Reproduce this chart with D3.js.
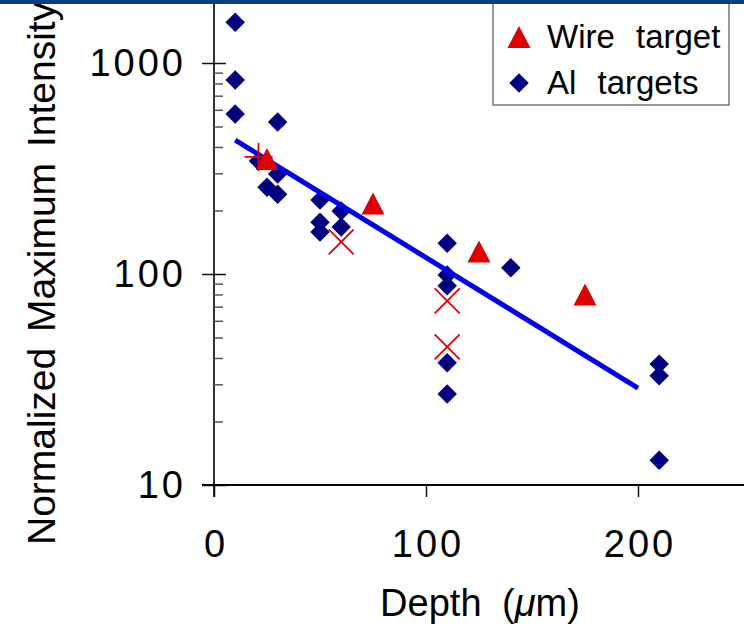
<!DOCTYPE html>
<html>
<head>
<meta charset="utf-8">
<script src="https://cdn.jsdelivr.net/npm/d3@7"></script>
<style>
  html, body { margin: 0; padding: 0; background: #fff; }
  svg { display: block; font-family: "Liberation Sans", Arial, Helvetica, sans-serif; }
</style>
</head>
<body>
<svg id="chart" width="744" height="626"></svg>
<script>
// Al targets (navy diamonds)
const alDepth = [10, 10, 10, 21, 25, 30, 30, 30, 50, 50, 50, 60, 60, 110, 110, 110, 110, 110, 140, 210, 210, 210];
const alIntensity = [1560, 830, 573, 343, 258, 525, 298, 239, 224, 176, 158, 199, 167, 140, 99, 88, 38, 27, 107, 37.4, 32.9, 13.1];

// Wire target (red triangles)
const wireDepth = [25, 75, 125, 175];
const wireIntensity = [351, 216, 128, 80];

// Extra red cross and plus markers
const crossDepth = [60, 110, 110];
const crossIntensity = [142, 74.5, 45.1];
const plusDepth = [21];
const plusIntensity = [359];

// Exponential fit, straight on the log axis
const fitDepth = [10, 200];
const fitIntensity = [431, 28.8];

// Axis ticks
const xTicks = [0, 100, 200];
const yMajorTicks = [10, 100, 1000];
const yMinorTicks = [20, 30, 40, 50, 60, 70, 80, 90, 200, 300, 400, 500, 600, 700, 800, 900];

const legendLabels = ["Wire target", "Al targets"];

const svg = d3.select("#chart");

const x = d3.scaleLinear().domain([0, 250]).range([214, 744]);
const y = d3.scaleLog().domain([10, 1000]).range([485, 63]);

const navy = "#000080";
const red = "#e00000";

// top banner strip
svg.append("rect").attr("x", 0).attr("y", 0).attr("width", 744).attr("height", 4).attr("fill", "#0b3f7c");

// y axis line up to the top edge
svg.append("line")
  .attr("x1", x(0)).attr("x2", x(0))
  .attr("y1", 3).attr("y2", y(10) + 12)
  .attr("stroke", "#333").attr("stroke-width", 2);

// minor y ticks (inside)
const yMinor = svg.append("g").attr("transform", `translate(${x(0)},0)`)
  .call(d3.axisRight(y).tickValues(yMinorTicks).tickSize(9).tickFormat(""));
yMinor.select(".domain").remove();
yMinor.selectAll(".tick line").attr("stroke", "#555").attr("stroke-width", 1.5);

// major y ticks crossing the axis, with labels
const yInner = svg.append("g").attr("transform", `translate(${x(0)},0)`)
  .call(d3.axisRight(y).tickValues(yMajorTicks).tickSize(12).tickFormat(""));
yInner.select(".domain").remove();
yInner.selectAll(".tick line").attr("stroke", "#111").attr("stroke-width", 1.5);

const yAxis = svg.append("g").attr("transform", `translate(${x(0)},0)`)
  .call(d3.axisLeft(y).tickValues(yMajorTicks).tickSize(12).tickPadding(16).tickFormat(d3.format("d")));
yAxis.select(".domain").remove();
yAxis.selectAll(".tick line").attr("stroke", "#111").attr("stroke-width", 1.5);
yAxis.selectAll(".tick text")
  .attr("font-size", 38).attr("fill", "#000").attr("letter-spacing", 3)
  .attr("font-family", "Liberation Sans, Arial, sans-serif");

// x axis
const xAxis = svg.append("g").attr("transform", `translate(0,${y(10)})`)
  .call(d3.axisBottom(x).tickValues(xTicks).tickSize(12).tickPadding(33).tickFormat(d3.format("d")));
xAxis.select(".domain").attr("stroke", "#000").attr("stroke-width", 2)
  .attr("d", `M${x(0) - 12},0H744`);
xAxis.selectAll(".tick line").attr("stroke", "#111").attr("stroke-width", 1.5);
xAxis.selectAll(".tick text")
  .attr("font-size", 38).attr("fill", "#000").attr("letter-spacing", 3)
  .attr("font-family", "Liberation Sans, Arial, sans-serif")
  .attr("dx", 1.5);

// axis titles
svg.append("text")
  .attr("transform", "translate(55,545) rotate(-90)")
  .attr("text-anchor", "start")
  .attr("font-size", 39).attr("word-spacing", 5).attr("fill", "#000")
  .text("Normalized Maximum Intensity");

const xt = svg.append("text")
  .attr("x", 480).attr("y", 616)
  .attr("text-anchor", "middle")
  .attr("font-size", 38).attr("word-spacing", 10).attr("fill", "#000");
xt.append("tspan").text("Depth (");
xt.append("tspan").attr("font-style", "italic").text("μ");
xt.append("tspan").text("m)");

// marker shapes
const diamond = d3.symbol().type(d3.symbolSquare).size(190);
const triangle = (cx, cy, w, h) => `M${cx},${cy - h / 2}L${cx + w / 2},${cy + h / 2}L${cx - w / 2},${cy + h / 2}Z`;

const alData = alDepth.map((d, i) => ({ d, v: alIntensity[i] }));
const wireData = wireDepth.map((d, i) => ({ d, v: wireIntensity[i] }));
const crossData = crossDepth.map((d, i) => ({ d, v: crossIntensity[i] }));
const plusData = plusDepth.map((d, i) => ({ d, v: plusIntensity[i] }));
const fitData = fitDepth.map((d, i) => ({ d, v: fitIntensity[i] }));

// Al diamonds
svg.append("g").selectAll("path").data(alData).join("path")
  .attr("d", diamond)
  .attr("transform", p => `translate(${x(p.d)},${y(p.v)}) rotate(45)`)
  .attr("fill", navy);

// fit line
svg.append("path").datum(fitData)
  .attr("d", d3.line().x(p => x(p.d)).y(p => y(p.v)))
  .attr("fill", "none").attr("stroke", "#0000ee").attr("stroke-width", 5);

// wire triangles
svg.append("g").selectAll("path").data(wireData).join("path")
  .attr("d", p => triangle(x(p.d), y(p.v), 23, 22))
  .attr("fill", red);

// crosses
svg.append("g").selectAll("path").data(crossData).join("path")
  .attr("d", p => {
    const cx = x(p.d), cy = y(p.v), r = 12.5;
    return `M${cx - r},${cy - r}L${cx + r},${cy + r}M${cx - r},${cy + r}L${cx + r},${cy - r}`;
  })
  .attr("stroke", red).attr("stroke-width", 1.8).attr("fill", "none");

// plus
svg.append("g").selectAll("path").data(plusData).join("path")
  .attr("d", p => {
    const cx = x(p.d), cy = y(p.v), r = 14;
    return `M${cx - r},${cy}L${cx + r},${cy}M${cx},${cy - r}L${cx},${cy + r}`;
  })
  .attr("stroke", red).attr("stroke-width", 1.8).attr("fill", "none");

// legend
const lg = svg.append("g");
lg.append("rect").attr("x", 493).attr("y", -2).attr("width", 236).attr("height", 107)
  .attr("fill", "#fff").attr("stroke", "#777").attr("stroke-width", 1.5);
lg.append("path").attr("d", triangle(519, 37, 23, 22)).attr("fill", red);
lg.append("path").attr("d", diamond).attr("transform", "translate(519,83) rotate(45)").attr("fill", navy);
lg.selectAll("text.lab").data(legendLabels).join("text")
  .attr("class", "lab")
  .attr("x", 547).attr("y", (d, i) => 48 + i * 46)
  .attr("font-size", 33).attr("word-spacing", 12).attr("fill", "#000")
  .text(d => d);

// redraw banner on top of legend edge
svg.append("rect").attr("x", 0).attr("y", 0).attr("width", 744).attr("height", 4).attr("fill", "#0b3f7c");
</script>
</body>
</html>
